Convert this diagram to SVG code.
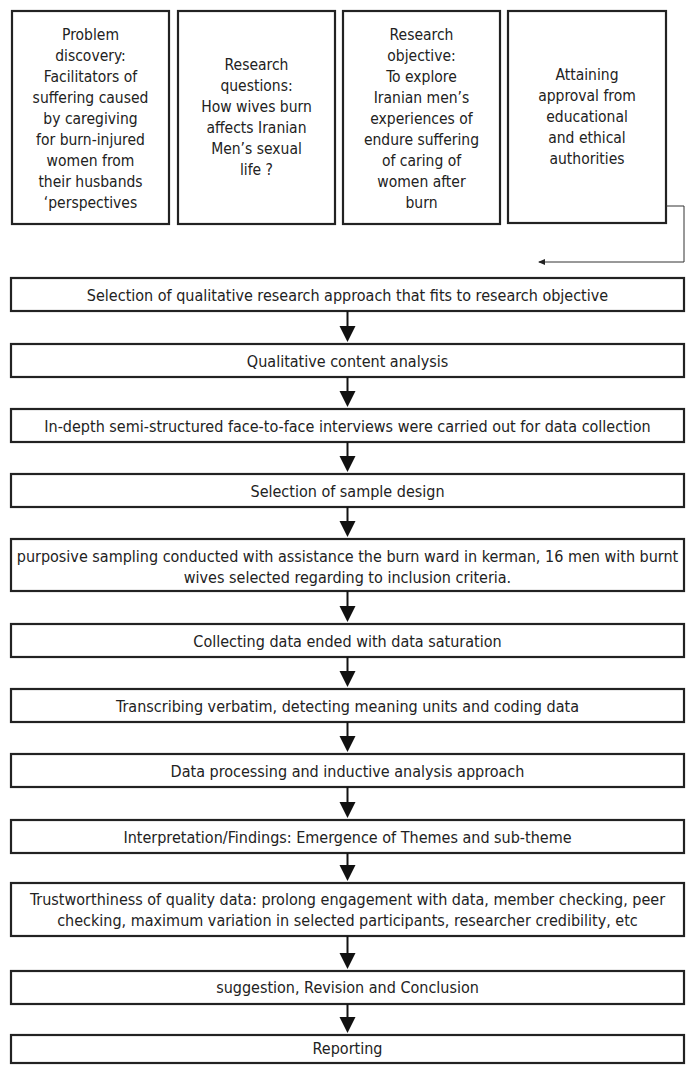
<svg xmlns="http://www.w3.org/2000/svg" width="688" height="1065" viewBox="0 0 688 1065">
<defs>
<style>
.box{fill:#fff;stroke:#222;stroke-width:2.2}
.t{font-family:"DejaVu Sans Condensed","DejaVu Sans",sans-serif;font-stretch:condensed;font-size:16px;fill:#222;text-anchor:middle}
.tt{font-size:15.5px}
.arr{stroke:#111;stroke-width:2;fill:none}
.thin{stroke:#333;stroke-width:1;fill:none}
</style>
<marker id="ah" markerUnits="userSpaceOnUse" markerWidth="17" markerHeight="17" refX="13" refY="8" orient="auto">
<path d="M0,0 L16,8 L0,16 z" fill="#111"/>
</marker>
<marker id="sh" markerUnits="userSpaceOnUse" markerWidth="8" markerHeight="8" refX="6" refY="3" orient="auto">
<path d="M0,0 L7,3 L0,6 z" fill="#222"/>
</marker>
</defs>
<rect width="688" height="1065" fill="#fff"/>

<g id="top1">
<rect class="box" x="12" y="11" width="157" height="213"/>
<text class="t tt"><tspan x="90.5" y="40">Problem</tspan><tspan x="90.5" y="61">discovery:</tspan><tspan x="90.5" y="82">Facilitators of</tspan><tspan x="90.5" y="103">suffering caused</tspan><tspan x="90.5" y="124">by caregiving</tspan><tspan x="90.5" y="145">for burn-injured</tspan><tspan x="90.5" y="166">women from</tspan><tspan x="90.5" y="187">their husbands</tspan><tspan x="90.5" y="208">‘perspectives</tspan></text>
</g>
<g id="top2">
<rect class="box" x="178" y="11" width="157" height="213"/>
<text class="t tt"><tspan x="256.5" y="70">Research</tspan><tspan x="256.5" y="91">questions:</tspan><tspan x="256.5" y="112">How wives burn</tspan><tspan x="256.5" y="133">affects Iranian</tspan><tspan x="256.5" y="154">Men’s sexual</tspan><tspan x="256.5" y="175">life ?</tspan></text>
</g>
<g id="top3">
<rect class="box" x="343" y="11" width="157" height="213"/>
<text class="t tt"><tspan x="421.5" y="40">Research</tspan><tspan x="421.5" y="61">objective:</tspan><tspan x="421.5" y="82">To explore</tspan><tspan x="421.5" y="103">Iranian men’s</tspan><tspan x="421.5" y="124">experiences of</tspan><tspan x="421.5" y="145">endure suffering</tspan><tspan x="421.5" y="166">of caring of</tspan><tspan x="421.5" y="187">women after</tspan><tspan x="421.5" y="208">burn</tspan></text>
</g>
<g id="top4">
<rect class="box" x="508" y="11" width="158" height="212"/>
<text class="t tt"><tspan x="587" y="80">Attaining</tspan><tspan x="587" y="101">approval from</tspan><tspan x="587" y="122">educational</tspan><tspan x="587" y="143">and ethical</tspan><tspan x="587" y="164">authorities</tspan></text>
</g>

<g id="s1"><rect class="box" x="11" y="278" width="673" height="33"/><text class="t" x="347.5" y="300.5">Selection of qualitative research approach that fits to research objective</text></g>
<g id="s2"><rect class="box" x="11" y="344" width="673" height="33"/><text class="t" x="347.5" y="366.5">Qualitative content analysis</text></g>
<g id="s3"><rect class="box" x="11" y="409" width="673" height="33"/><text class="t" x="347.5" y="431.5">In-depth semi-structured face-to-face interviews were carried out for data collection</text></g>
<g id="s4"><rect class="box" x="11" y="474" width="673" height="33"/><text class="t" x="347.5" y="496.5">Selection of sample design</text></g>
<g id="s5"><rect class="box" x="11" y="539" width="673" height="52"/><text class="t"><tspan x="347.5" y="562">purposive sampling conducted with assistance the burn ward in kerman, 16 men with burnt</tspan><tspan x="347.5" y="583">wives selected regarding to inclusion criteria.</tspan></text></g>
<g id="s6"><rect class="box" x="11" y="624" width="673" height="33"/><text class="t" x="347.5" y="646.5">Collecting data ended with data saturation</text></g>
<g id="s7"><rect class="box" x="11" y="689" width="673" height="33"/><text class="t" x="347.5" y="711.5">Transcribing verbatim, detecting meaning units and coding data</text></g>
<g id="s8"><rect class="box" x="11" y="754" width="673" height="33"/><text class="t" x="347.5" y="776.5">Data processing and inductive analysis approach</text></g>
<g id="s9"><rect class="box" x="11" y="820" width="673" height="33"/><text class="t" x="347.5" y="842.5">Interpretation/Findings: Emergence of Themes and sub-theme</text></g>
<g id="s10"><rect class="box" x="11" y="883" width="673" height="53"/><text class="t"><tspan x="347.5" y="904.5">Trustworthiness of quality data: prolong engagement with data, member checking, peer</tspan><tspan x="347.5" y="925.5">checking, maximum variation in selected participants, researcher credibility, etc</tspan></text></g>
<g id="s11"><rect class="box" x="11" y="971" width="673" height="33"/><text class="t" x="347.5" y="992.5">suggestion, Revision and Conclusion</text></g>
<g id="s12"><rect class="box" x="11" y="1035" width="673" height="28"/><text class="t" x="347.5" y="1054">Reporting</text></g>

<g id="connectors">
<polyline class="thin" points="666,206 684,206 684,262 539,262" marker-end="url(#sh)"/>
<line class="arr" x1="347.5" y1="311" x2="347.5" y2="339" marker-end="url(#ah)"/>
<line class="arr" x1="347.5" y1="377" x2="347.5" y2="404" marker-end="url(#ah)"/>
<line class="arr" x1="347.5" y1="442" x2="347.5" y2="469" marker-end="url(#ah)"/>
<line class="arr" x1="347.5" y1="507" x2="347.5" y2="534" marker-end="url(#ah)"/>
<line class="arr" x1="347.5" y1="591" x2="347.5" y2="619" marker-end="url(#ah)"/>
<line class="arr" x1="347.5" y1="657" x2="347.5" y2="684" marker-end="url(#ah)"/>
<line class="arr" x1="347.5" y1="722" x2="347.5" y2="749" marker-end="url(#ah)"/>
<line class="arr" x1="347.5" y1="787" x2="347.5" y2="815" marker-end="url(#ah)"/>
<line class="arr" x1="347.5" y1="853" x2="347.5" y2="878" marker-end="url(#ah)"/>
<line class="arr" x1="347.5" y1="936" x2="347.5" y2="966" marker-end="url(#ah)"/>
<line class="arr" x1="347.5" y1="1004" x2="347.5" y2="1030" marker-end="url(#ah)"/>
</g>
</svg>
